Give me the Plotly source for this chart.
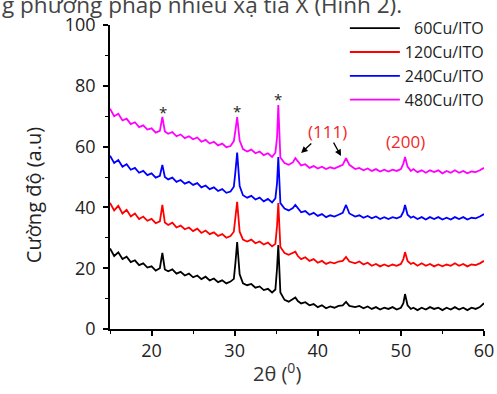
import plotly.graph_objects as go

two_theta = [
    15.0, 15.5, 16.0, 16.5, 17.0, 17.5, 18.0, 18.5, 19.0, 19.5,
    20.0, 20.5, 21.0, 21.3, 21.6, 22.0, 22.5, 23.0, 23.5, 24.0,
    24.5, 25.0, 25.5, 26.0, 26.5, 27.0, 27.5, 28.0, 28.5, 29.0,
    29.5, 29.9, 30.1, 30.3, 30.6, 31.0, 31.5, 32.0, 32.5, 33.0,
    33.5, 34.0, 34.5, 34.9, 35.1, 35.25, 35.5, 36.0, 36.5, 37.0,
    37.3, 37.6, 38.0, 38.5, 39.0, 39.5, 40.0, 40.5, 41.0, 41.5,
    42.0, 42.5, 43.0, 43.4, 43.8, 44.5, 45.0, 45.5, 46.0, 46.5,
    47.0, 47.5, 48.0, 48.5, 49.0, 49.5, 50.0, 50.3, 50.5, 50.8,
    51.2, 51.5, 52.0, 52.5, 53.0, 53.5, 54.0, 54.5, 55.0, 55.5,
    56.0, 56.5, 57.0, 57.5, 58.0, 58.5, 59.0, 59.5, 60.0,
]

cu60 = [
    26.5, 24.0, 25.2, 23.0, 23.8, 22.0, 22.6, 21.0, 21.6, 20.2,
    20.6, 19.2, 20.0, 25.0, 19.6, 19.0, 19.6, 18.2, 18.8, 17.6,
    18.2, 17.0, 17.6, 16.4, 17.2, 16.0, 16.6, 15.4, 16.0, 15.0,
    15.6, 16.5, 22.0, 28.6, 18.0, 15.0, 14.4, 14.8, 13.6, 14.0,
    12.8, 13.2, 12.0, 13.0, 20.0, 27.6, 12.0, 9.6, 9.0, 9.8,
    10.4, 9.2, 8.4, 8.8, 7.8, 8.2, 7.2, 7.8, 6.8, 7.4,
    7.0, 7.6, 7.8, 8.9, 7.6, 7.2, 7.6, 6.8, 7.4, 6.6,
    7.2, 6.4, 7.0, 6.6, 7.2, 6.4, 7.0, 8.5, 11.5, 7.8,
    6.6, 7.0, 6.2, 7.0, 6.4, 7.2, 6.6, 7.0, 6.2, 7.0,
    6.4, 7.2, 6.4, 7.0, 6.2, 7.0, 6.6, 7.2, 8.5,
]

cu120 = [
    41.5, 39.0, 40.5, 38.0, 39.2, 37.0, 38.0, 36.2, 37.0, 35.6,
    36.2, 34.8, 35.4, 40.8, 35.0, 34.2, 35.0, 33.4, 34.0, 32.8,
    33.4, 32.2, 33.0, 31.6, 32.4, 31.2, 31.8, 30.6, 31.2, 30.0,
    30.6, 32.0, 37.0, 41.8, 32.0, 29.4, 28.8, 29.4, 28.2, 28.8,
    27.8, 28.4, 27.2, 28.0, 34.0, 41.4, 27.0, 25.0, 24.4, 25.0,
    25.4, 24.0, 23.0, 23.6, 22.4, 23.0, 21.8, 22.4, 21.4, 22.0,
    21.6, 22.2, 22.4, 23.7, 22.2, 21.6, 22.2, 21.2, 21.8, 20.8,
    21.4, 20.6, 21.2, 20.6, 21.2, 20.8, 21.4, 23.0, 25.3, 22.4,
    21.4, 21.8, 20.8, 21.6, 20.8, 21.4, 20.6, 21.2, 20.6, 21.2,
    20.8, 21.6, 20.8, 21.4, 20.6, 21.2, 21.0, 21.6, 22.4,
]

cu240 = [
    57.0, 54.6, 55.6, 53.4, 54.2, 52.4, 53.0, 51.4, 52.0, 50.6,
    51.2, 49.8, 50.4, 54.0, 50.0, 49.2, 49.8, 48.4, 49.0, 47.8,
    48.4, 47.4, 48.0, 46.6, 47.2, 46.0, 46.6, 45.4, 46.0, 44.8,
    45.2, 46.8, 52.0, 58.0, 47.0, 44.0, 43.2, 43.8, 42.6, 43.2,
    42.0, 42.8, 41.6, 43.0, 48.0, 56.6, 41.4, 39.6, 39.0, 39.8,
    40.8, 39.6, 38.4, 38.8, 37.6, 38.2, 37.2, 37.8, 36.8, 37.4,
    37.0, 37.6, 38.2, 40.8, 38.0, 37.0, 37.4, 36.6, 37.2, 36.4,
    37.0, 36.2, 36.8, 36.2, 36.8, 36.4, 37.0, 38.6, 40.8, 37.6,
    36.6, 37.0, 36.2, 36.8, 36.0, 36.8, 36.2, 36.8, 36.0, 36.6,
    36.0, 36.8, 36.2, 36.8, 36.0, 36.6, 36.4, 37.0, 37.8,
]

cu480 = [
    72.5, 70.0, 70.8, 68.6, 69.2, 67.4, 68.0, 66.4, 67.0, 65.6,
    66.0, 64.6, 65.2, 69.8, 65.0, 64.2, 64.8, 63.4, 64.0, 62.8,
    63.4, 62.4, 63.0, 61.6, 62.2, 61.0, 61.6, 60.4, 61.0, 59.8,
    60.2, 61.8, 65.5, 69.7, 62.0, 59.2, 58.4, 59.0, 57.8, 58.4,
    57.2, 57.8, 56.6, 58.0, 63.0, 73.7, 56.4, 54.6, 54.0, 54.8,
    56.2, 55.0, 53.8, 54.2, 53.0, 53.6, 52.8, 53.4, 52.6, 53.2,
    52.8, 53.4, 54.0, 56.2, 54.0, 52.6, 53.0, 52.2, 52.8, 52.0,
    52.6, 51.8, 52.4, 51.8, 52.4, 52.0, 52.6, 54.4, 56.6, 53.4,
    52.0, 52.6, 51.6, 52.2, 51.4, 52.2, 51.6, 52.2, 51.2, 52.0,
    51.4, 52.2, 51.4, 52.0, 51.2, 51.8, 51.6, 52.2, 53.0,
]

series_names = ["\u200760Cu/ITO", "120Cu/ITO", "240Cu/ITO", "480Cu/ITO"]
series_values = [cu60, cu120, cu240, cu480]
series_colors = ["#000000", "#ff0000", "#0000ff", "#ff00ff"]

star_x = [21.4, 30.3, 35.2]
star_y = [71.4, 71.7, 75.6]

hkl_labels = ["(111)", "(200)"]
hkl_x = [41.2, 50.6]
hkl_y = [65.0, 61.7]

font = "Open Sans"

fig = go.Figure()
for name, vals, col in zip(series_names, series_values, series_colors):
    fig.add_trace(go.Scatter(x=two_theta, y=vals, mode="lines", name=name,
                             line=dict(color=col, width=1.8)))

annotations = []
for sx, sy in zip(star_x, star_y):
    annotations.append(dict(x=sx, y=sy, xref="x", yref="y", text="*", showarrow=False,
                            font=dict(family=font, size=15, color="#222")))
for t, hx, hy in zip(hkl_labels, hkl_x, hkl_y):
    annotations.append(dict(x=hx, y=hy, xref="x", yref="y", text=t, showarrow=False,
                            font=dict(family=font, size=17, color="#f02828")))
# arrows for (111)
annotations.append(dict(x=38.0, y=57.9, ax=39.4, ay=61.5, xref="x", yref="y",
                        axref="x", ayref="y", text="", showarrow=True,
                        arrowhead=2, arrowsize=1, arrowwidth=1.3, arrowcolor="#000"))
annotations.append(dict(x=42.8, y=56.9, ax=41.8, ay=61.8, xref="x", yref="y",
                        axref="x", ayref="y", text="", showarrow=True,
                        arrowhead=2, arrowsize=1, arrowwidth=1.3, arrowcolor="#000"))
# axis titles
annotations.append(dict(x=-0.206, y=0.44, xref="paper", yref="paper",
                        xanchor="center", yanchor="middle",
                        text="Cường độ (a.u)", textangle=-90, showarrow=False,
                        font=dict(family=font, size=20, color="#222")))
annotations.append(dict(x=0.446, y=-0.198, xref="paper", yref="paper",
                        text="2θ (<sup>0</sup>)", showarrow=False,
                        font=dict(family=font, size=20, color="#333")))
# cut-off document text at top
annotations.append(dict(x=-0.294, y=1.066, xref="paper", yref="paper", xanchor="left",
                        yanchor="middle", text="g phương pháp nhiễu xạ tia X (Hình 2).",
                        showarrow=False, font=dict(family=font, size=22.5, color="#444")))

fig.update_layout(
    width=497, height=394,
    margin=dict(l=110, r=13, t=25, b=65, autoexpand=False),
    paper_bgcolor="white", plot_bgcolor="white",
    showlegend=True,
    legend=dict(x=0.628, y=1.045, xanchor="left", yanchor="top",
                bgcolor="rgba(255,255,255,0)", itemwidth=50,
                font=dict(family=font, size=16, color="#222"),
                tracegroupgap=0),
    annotations=annotations,
    font=dict(family=font),
)
fig.update_xaxes(range=[15, 60], tick0=0, dtick=10, ticks="outside", ticklen=5,
                 tickwidth=1.5, tickcolor="#000", showline=True, linecolor="#000",
                 linewidth=1.5, showgrid=False, zeroline=False,
                 tickfont=dict(family=font, size=18, color="#222"),
                 minor=dict(dtick=5, tick0=0, ticks="outside", ticklen=3,
                            tickcolor="#000", tickwidth=1.2))
fig.update_yaxes(range=[0, 100], tick0=0, dtick=20, ticks="outside", ticklen=5,
                 tickwidth=1.5, tickcolor="#000", showline=True, linecolor="#000",
                 linewidth=1.5, showgrid=False, zeroline=False,
                 tickfont=dict(family=font, size=18, color="#222"),
                 ticklabelstandoff=4,
                 minor=dict(dtick=10, tick0=0, ticks="outside", ticklen=3,
                            tickcolor="#000", tickwidth=1.2))

fig.write_html("out.html", config={"displayModeBar": False},
               post_script="document.body.style.margin='0px';")
